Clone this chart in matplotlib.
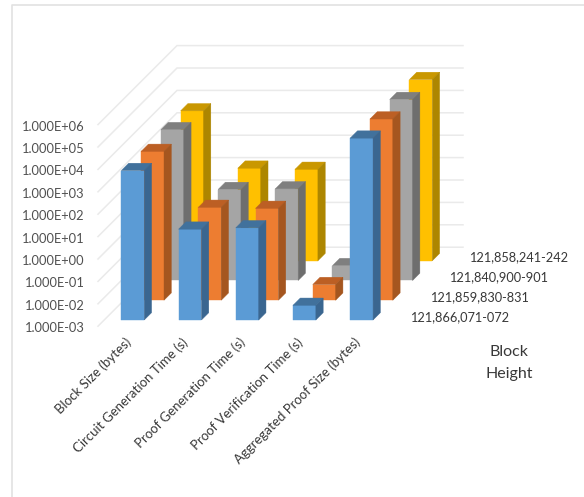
import numpy as np
import matplotlib
matplotlib.use("Agg")
import matplotlib.pyplot as plt
from matplotlib.patches import Polygon

plt.rcParams["font.family"] = ["Lato", "DejaVu Sans"]

categories = ["Block Size (bytes)", "Circuit Generation Time (s)", "Proof Generation Time (s)",
              "Proof Verification Time (s)", "Aggregated Proof Size (bytes)"]
block_heights = ["121,866,071-072", "121,859,830-831", "121,840,900-901", "121,858,241-242"]
tick_labels = ["1.000E-03", "1.000E-02", "1.000E-01", "1.000E+00", "1.000E+01",
               "1.000E+02", "1.000E+03", "1.000E+04", "1.000E+05", "1.000E+06"]

height_a = [4700, 11.3, 13, 0.0045, 131000]
height_b = [4400, 14, 12.6, 0.005, 123000]
height_c = [5400, 11.5, 12.3, 0.0046, 120000]
height_d = [4900, 13.5, 12, 0.005, 123000]

# oblique projection of the 3D box, in pixels
X0, Y0 = 98.0, 326.2
CAT_W = 57.2
DECADE = 22.4
ROW = 19.75
BAR_W = 0.40
BAR_D = 0.37


def project(cat, row, val):
    """cat = category units, row = series units, val = log10 value"""
    return (X0 + cat * CAT_W + row * ROW, Y0 - (val + 3) * DECADE - row * ROW)


def draw_bar(ax, cat, row, value, front, top, side, z):
    x0 = cat + (1 - BAR_W) / 2
    x1 = x0 + BAR_W
    d0 = row + (1 - BAR_D) / 2
    d1 = d0 + BAR_D
    v = np.log10(value)
    faces = [
        ([(x0, d0, -3), (x1, d0, -3), (x1, d0, v), (x0, d0, v)], front),
        ([(x0, d0, v), (x1, d0, v), (x1, d1, v), (x0, d1, v)], top),
        ([(x1, d0, -3), (x1, d1, -3), (x1, d1, v), (x1, d0, v)], side),
    ]
    for pts, color in faces:
        ax.add_patch(Polygon([project(*p) for p in pts], closed=True, facecolor=color,
                             edgecolor=color, linewidth=0.3, zorder=z))


fig = plt.figure(figsize=(5.84, 4.97), dpi=100)
ax = fig.add_axes([0, 0, 1, 1])
ax.set_xlim(0, 584)
ax.set_ylim(497, 0)
ax.axis("off")

# chart frame, open on the right and bottom
ax.plot([11.5, 11.5, 584], [497, 4.5, 4.5], color="#E2E2E2", lw=1.2, zorder=0)

# walls
n_cat = len(categories)
n_row = len(block_heights)
for i in range(10):
    val = i - 3
    a = project(0, 0, val)
    b = project(0, n_row, val)
    c = project(n_cat, n_row, val)
    ax.plot([a[0], b[0], c[0]], [a[1], b[1], c[1]], color="#EAEAEA", lw=1.1, zorder=1,
            solid_joinstyle="miter")
    ax.text(85, a[1] + 2, tick_labels[i], ha="right", va="center", fontsize=9.3, color="#505050")

series = [
    (height_a, "#5B9BD5", "#41719C", "#3A6690"),
    (height_b, "#ED7D31", "#BC5F24", "#A5561F"),
    (height_c, "#A5A5A5", "#7F7F7F", "#6E6E6E"),
    (height_d, "#FFC000", "#C99700", "#AD8600"),
]

# back row first so the front rows cover it
for row in range(n_row - 1, -1, -1):
    vals, front, top, side = series[row]
    for cat in range(n_cat):
        draw_bar(ax, cat, row, vals[cat], front, top, side, 5 + (n_row - row))

for cat, name in enumerate(categories):
    x, y = project(cat + 0.5, 0, -3)
    ax.text(x - 2, y + 9.8, name, rotation=45, rotation_mode="anchor", ha="right", va="top",
            fontsize=9.5, color="#383838")

for row, name in enumerate(block_heights):
    x, y = project(n_cat, row, -3)
    ax.text(x + 26, y - 9.4, name, ha="left", va="center", fontsize=9.2, color="#383838")

ax.text(509, 352, "Block", ha="center", va="center", fontsize=11.5, color="#383838")
ax.text(509, 374, "Height", ha="center", va="center", fontsize=11.5, color="#383838")

fig.savefig("out.png", dpi=100)
